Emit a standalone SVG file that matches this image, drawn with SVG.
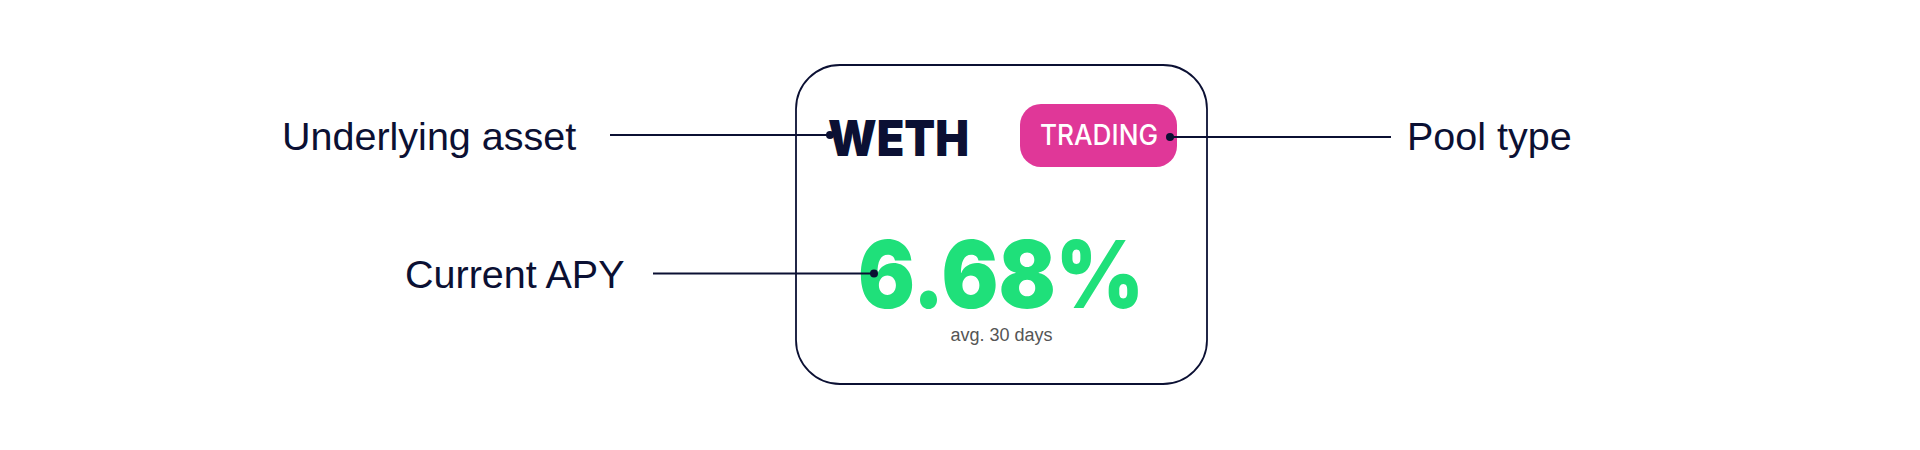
<svg xmlns="http://www.w3.org/2000/svg" width="1920" height="450" viewBox="0 0 1920 450">
<style>
.lbl{font-family:"Liberation Sans",Arial,sans-serif;font-size:39.5px;fill:#0b1033}
.conn{stroke:#0b1033;stroke-width:1.8;fill:none}
.dot{fill:#0b1033}
</style>
<rect width="1920" height="450" fill="#ffffff"/>
<g id="card">
<rect x="796" y="65" width="411" height="319" rx="44" ry="44" fill="#ffffff" stroke="#0b1033" stroke-width="1.8"/>
</g>
<g id="asset">
<text x="828" y="156" font-family="Inter,'Liberation Sans',sans-serif" font-weight="900" font-size="50" fill="#0b1033" textLength="141" lengthAdjust="spacingAndGlyphs">WETH</text>
</g>
<g id="pool-badge">
<rect x="1020" y="104" width="157" height="63" rx="21" ry="21" fill="#e03798"/>
<text x="1040" y="144.5" font-family="Inter,'Liberation Sans',sans-serif" font-weight="500" font-size="28" fill="#ffffff" textLength="118" lengthAdjust="spacingAndGlyphs">TRADING</text>
</g>
<g id="apy">
<text x="858" y="308" font-family="Inter,'Liberation Sans',sans-serif" font-weight="900" font-size="94" fill="#1fe07a" textLength="286" lengthAdjust="spacingAndGlyphs">6.68%</text>
<text x="1001.5" y="341" text-anchor="middle" font-family="'Liberation Sans',Arial,sans-serif" font-size="18" fill="#555555">avg. 30 days</text>
</g>
<g id="label-underlying"><text class="lbl" x="282" y="150">Underlying asset</text></g>
<g id="label-apy"><text class="lbl" x="405" y="288">Current APY</text></g>
<g id="label-pool"><text class="lbl" x="1407" y="150">Pool type</text></g>
<g id="connectors">
<line class="conn" x1="610" y1="135" x2="830" y2="135"/>
<circle class="dot" cx="830" cy="135" r="4"/>
<line class="conn" x1="653" y1="273.5" x2="874" y2="273.5"/>
<circle class="dot" cx="874" cy="273.5" r="4"/>
<line class="conn" x1="1170" y1="137" x2="1391" y2="137"/>
<circle class="dot" cx="1170" cy="137" r="4"/>
</g>
</svg>
